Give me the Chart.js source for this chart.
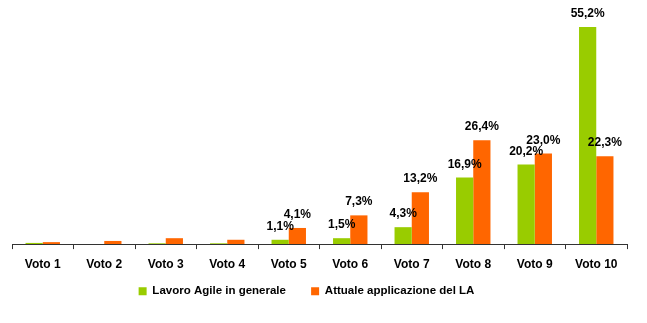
<!DOCTYPE html>
<html>
<head>
<meta charset="utf-8">
<script src="https://cdn.jsdelivr.net/npm/chart.js@4/dist/chart.umd.min.js"></script>
<style>
	html, body { margin: 0; padding: 0; background: #fff; }
	#box { width: 647px; height: 323px; }
</style>
</head>
<body>
<div id="box"><canvas id="chart1"></canvas></div>
<script>
// dati
const categorie = ["Voto 1", "Voto 2", "Voto 3", "Voto 4", "Voto 5", "Voto 6", "Voto 7", "Voto 8", "Voto 9", "Voto 10"];
const lavoroAgile = [0.3, 0, 0.2, 0.2, 1.1, 1.5, 4.3, 16.9, 20.2, 55.2];
const applicazioneLA = [0.5, 0.8, 1.5, 1.1, 4.1, 7.3, 13.2, 26.4, 23.0, 22.3];
// etichette mostrate (null = nessuna etichetta)
const etichetteAgile = [null, null, null, null, "1,1%", "1,5%", "4,3%", "16,9%", "20,2%", "55,2%"];
const etichetteLA = [null, null, null, null, "4,1%", "7,3%", "13,2%", "26,4%", "23,0%", "22,3%"];

const etichette = [etichetteAgile, etichetteLA];

let pluginEtichette = {
	id: "etichette",
	afterLayout: function (chart) {
		// legenda un po' spostata a sinistra come nell'originale
		chart.legend.left -= 13;
		chart.legend.right -= 13;
	},
	afterDatasetsDraw: function (chart) {
		let ctx = chart.ctx;
		ctx.save();
		ctx.font = "bold 12px Arial, 'Liberation Sans', sans-serif";
		ctx.fillStyle = "#000";
		ctx.textAlign = "center";
		ctx.textBaseline = "alphabetic";
		chart.data.datasets.forEach(function (ds, i) {
			let meta = chart.getDatasetMeta(i);
			meta.data.forEach(function (bar, j) {
				let txt = etichette[i][j];
				if (!txt) return;
				ctx.fillText(txt, bar.x, bar.y - 10);
			});
		});
		ctx.restore();
	},
};

let grafico = new Chart(document.getElementById("chart1"), {
	type: "bar",
	data: {
		labels: categorie,
		datasets: [
			{
				label: "Lavoro Agile in generale",
				data: lavoroAgile,
				backgroundColor: "#99CC00",
				categoryPercentage: 0.56,
				barPercentage: 1,
			},
			{
				label: "Attuale applicazione del LA",
				data: applicazioneLA,
				backgroundColor: "#FF6600",
				categoryPercentage: 0.56,
				barPercentage: 1,
			},
		],
	},
	options: {
		responsive: true,
		maintainAspectRatio: false,
		animation: false,
		layout: {
			padding: { top: 8, left: 12, right: 20, bottom: 16 },
		},
		scales: {
			x: {
				grid: {
					offset: true,
					drawOnChartArea: false,
					drawTicks: true,
					tickLength: 5,
					color: "#333",
				},
				border: { display: true, color: "#333" },
				ticks: {
					color: "#000",
					padding: 8,
					font: { family: "Arial, 'Liberation Sans', sans-serif", size: 12, weight: "bold" },
				},
			},
			y: {
				display: false,
				min: 0,
				max: 60,
			},
		},
		plugins: {
			legend: {
				position: "bottom",
				labels: {
					boxWidth: 8,
					boxHeight: 8,
					padding: 6,
					color: "#000",
					font: { family: "Arial, 'Liberation Sans', sans-serif", size: 11.5, weight: "bold" },
					generateLabels: function (chart) {
						let items = Chart.defaults.plugins.legend.labels.generateLabels(chart);
						// più spazio tra le due voci
						items[0].text = items[0].text + "      ";
						return items;
					},
				},
			},
			tooltip: { enabled: false },
		},
	},
	plugins: [pluginEtichette],
});
</script>
</body>
</html>
